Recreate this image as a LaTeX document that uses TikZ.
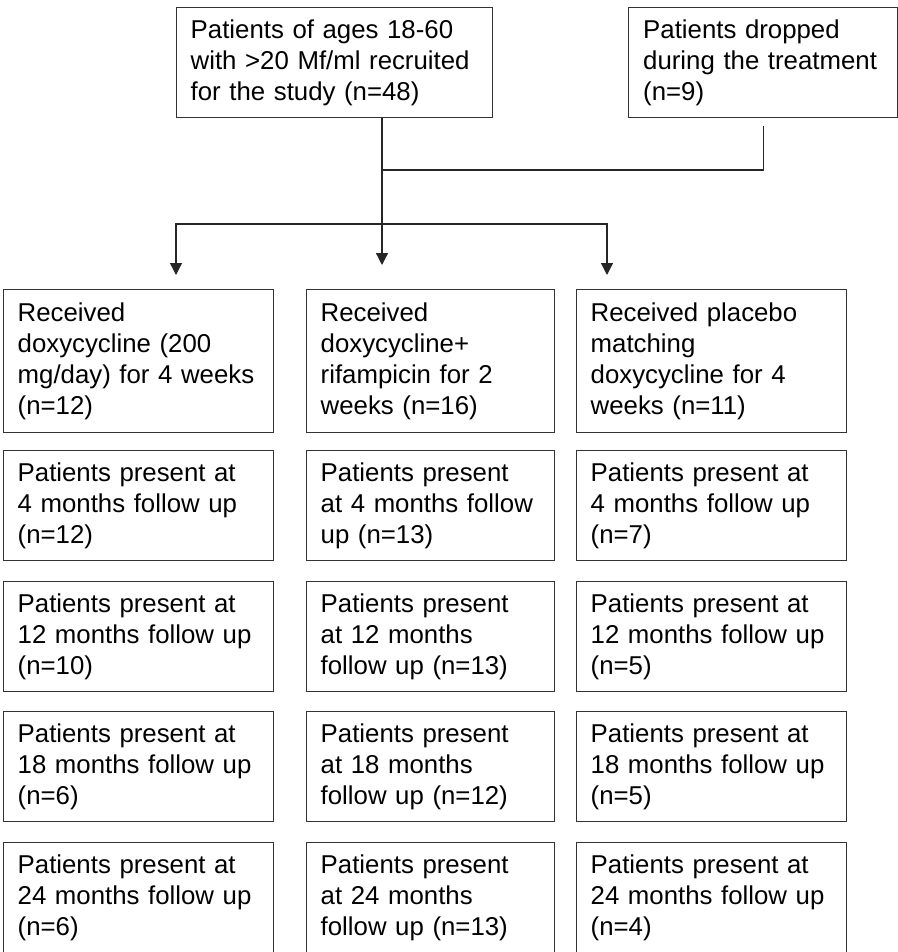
\documentclass[tikz,border=0pt]{standalone}
\usepackage{fontspec}
\setmainfont{Liberation Sans}
\usetikzlibrary{arrows.meta}

\begin{document}
\begin{tikzpicture}[x=0.5pt, y=-0.5pt]

    % Page frame (1 unit = 1 px of the 898 x 952 layout, y grows downward)
    \path[use as bounding box, fill=white] (0,0) rectangle (898,952);

    % Box styles: fixed size, text set flush left
    \tikzset{
        fbox/.style={
            draw=black!80, line width=0.7pt, anchor=north west,
            align=left, inner xsep=7pt, inner ysep=0pt,
            font=\fontsize{12.9}{15.5}\selectfont,
            execute at begin node={\rightskip=0pt plus 1fil minus 12pt}
        },
        wide/.style={minimum width=135pt, text width=121pt},
        narrow/.style={minimum width=124pt, text width=110pt},
        tall/.style={minimum height=71.5pt},
        short/.style={minimum height=55pt},
        link/.style={draw=black!85, line width=0.65pt},
        flow/.style={link, -{Triangle[width=6pt,length=6pt]}}
    }

    % Column left edges: A = 3, B = 306, C = 576
    \def\xa{3}
    \def\xb{306}
    \def\xc{576}

    % Row top edges (row 1 is the taller treatment row)
    \def\ya{289}
    \def\yb{450}
    \def\yc{581}
    \def\yd{711}
    \def\ye{842}

    % --- Top row ---
    \node[fbox, minimum width=158pt, text width=144pt, short] (recruit) at (176,7)
        {Patients of ages 18-60\\with >20 Mf/ml recruited\\for the study (n=48)};
    \node[fbox, minimum width=134.5pt, text width=120pt, short] (dropped) at (628,7)
        {Patients dropped\\during the treatment\\(n=9)};

    % --- Treatment arms ---
    \node[fbox, wide, tall] (armA) at (\xa,\ya)
        {Received\\doxycycline (200\\mg/day) for 4 weeks\\(n=12)};
    \node[fbox, narrow, tall] (armB) at (\xb,\ya)
        {Received\\doxycycline+\\rifampicin for 2\\weeks (n=16)};
    \node[fbox, wide, tall] (armC) at (\xc,\ya)
        {Received placebo\\matching\\doxycycline for 4\\weeks (n=11)};

    % --- 4 months ---
    \node[fbox, wide, short] (fourA) at (\xa,\yb)
        {Patients present at\\4 months follow up\\(n=12)};
    \node[fbox, narrow, short] (fourB) at (\xb,\yb)
        {Patients present\\at 4 months follow\\up (n=13)};
    \node[fbox, wide, short] (fourC) at (\xc,\yb)
        {Patients present at\\4 months follow up\\(n=7)};

    % --- 12 months ---
    \node[fbox, wide, short] (twelveA) at (\xa,\yc)
        {Patients present at\\12 months follow up\\(n=10)};
    \node[fbox, narrow, short] (twelveB) at (\xb,\yc)
        {Patients present\\at 12 months\\follow up (n=13)};
    \node[fbox, wide, short] (twelveC) at (\xc,\yc)
        {Patients present at\\12 months follow up\\(n=5)};

    % --- 18 months ---
    \node[fbox, wide, short] (eighteenA) at (\xa,\yd)
        {Patients present at\\18 months follow up\\(n=6)};
    \node[fbox, narrow, short] (eighteenB) at (\xb,\yd)
        {Patients present\\at 18 months\\follow up (n=12)};
    \node[fbox, wide, short] (eighteenC) at (\xc,\yd)
        {Patients present at\\18 months follow up\\(n=5)};

    % --- 24 months ---
    \node[fbox, wide, short] (twentyfourA) at (\xa,\ye)
        {Patients present at\\24 months follow up\\(n=6)};
    \node[fbox, narrow, short] (twentyfourB) at (\xb,\ye)
        {Patients present\\at 24 months\\follow up (n=13)};
    \node[fbox, wide, short] (twentyfourC) at (\xc,\ye)
        {Patients present at\\24 months follow up\\(n=4)};

    % Connectors: trunk at x = 382, branch line at y = 224
    \coordinate (join) at (382,170);
    \coordinate (split) at (382,224);
    \coordinate (armCtop) at (607,224);

    \draw[link, shorten <=4pt] (dropped.south) |- (join);
    \draw[flow, shorten >=12pt] (recruit.south -| split) -- (armB.north -| split);
    \draw[flow, shorten >=7pt] (split) -| (armA.north -| recruit.south west);
    \draw[flow, shorten >=7pt] (split) -- (armCtop) -- (armC.north -| armCtop);

\end{tikzpicture}
\end{document}
